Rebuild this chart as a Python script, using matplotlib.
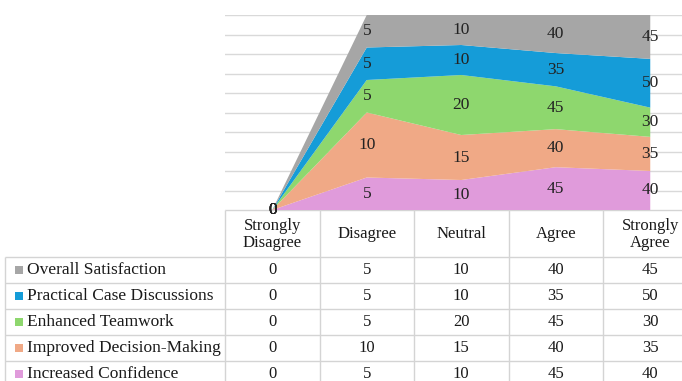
import numpy as np
import matplotlib.pyplot as plt

# survey responses per statement
categories = ["Strongly\nDisagree", "Disagree", "Neutral", "Agree", "Strongly\nAgree"]
series_names = ["Increased Confidence", "Improved Decision-Making", "Enhanced Teamwork",
                "Practical Case Discussions", "Overall Satisfaction"]
increased_confidence = [0, 5, 10, 45, 40]
improved_decision = [0, 10, 15, 40, 35]
enhanced_teamwork = [0, 5, 20, 45, 30]
practical_cases = [0, 5, 10, 35, 50]
overall_satisfaction = [0, 5, 10, 40, 45]
colors = ["#E09BDB", "#F0A986", "#8ED76E", "#159CD8", "#A6A6A6"]

plt.rcParams['font.family'] = ['Liberation Serif', 'DejaVu Serif']

W, H = 682, 381
fig = plt.figure(figsize=(W / 100, H / 100), dpi=100)

# 100% stacked area chart
col_w = 94.5
left, top, bottom = 225, 15, 210
ax = fig.add_axes([left / W, (H - bottom) / H, 5 * col_w / W, (bottom - top) / H])
vals = np.array([increased_confidence, improved_decision, enhanced_teamwork,
                 practical_cases, overall_satisfaction], dtype=float)
totals = vals.sum(axis=0)
pct = np.divide(vals * 100, totals, out=np.zeros_like(vals), where=totals > 0)
x = np.arange(len(categories))
ax.stackplot(x, pct, colors=colors, linewidth=0, zorder=2)
ax.set_xlim(-0.5, len(categories) - 0.5)
ax.set_ylim(0, 100)
ax.set_yticks(np.arange(0, 101, 10))
ax.grid(axis='y', color='#D9D9D9', linewidth=1, zorder=0)
ax.set_axisbelow(True)
for s in ax.spines.values():
    s.set_visible(False)
ax.tick_params(left=False, bottom=False, labelleft=False, labelbottom=False)

# data labels in the middle of each band
cum = np.cumsum(pct, axis=0)
for i in range(vals.shape[0]):
    for j in range(vals.shape[1]):
        y = cum[i, j] - pct[i, j] / 2
        ax.text(x[j], y, f"{int(vals[i, j])}", ha='center', va='center',
                fontsize=12.5, color='#222222', zorder=5)

# data table below the chart, in pixel coordinates
tb = fig.add_axes([0, 0, 1, 1], zorder=-1)
tb.set_xlim(0, W)
tb.set_ylim(H, 0)
tb.axis('off')
line_c = '#D4D4D4'
header_bottom = 257
row_h = 26
col_edges = [left + k * col_w for k in range(len(categories))]
tb.hlines(bottom, left, W, color=line_c, lw=1)
for r in range(6):
    tb.hlines(header_bottom + r * row_h, 5, W, color=line_c, lw=1)
for xe in col_edges:
    tb.vlines(xe, bottom, H, color=line_c, lw=1)
tb.vlines(5, header_bottom, H, color=line_c, lw=1)

for j, cat in enumerate(categories):
    cx = left + (j + 0.5) * col_w
    tb.text(cx, (bottom + header_bottom) / 2 + 1, cat, ha='center', va='center',
            fontsize=12, color='#1A1A1A', linespacing=1.05)

# rows listed top-down, as in the legend
for r, i in enumerate(range(vals.shape[0] - 1, -1, -1)):
    cy = header_bottom + (r + 0.5) * row_h
    tb.add_patch(plt.Rectangle((15, cy - 4), 8, 8, color=colors[i], lw=0))
    tb.text(27, cy, series_names[i], ha='left', va='center', fontsize=12.5, color='#1A1A1A')
    for j in range(vals.shape[1]):
        cx = left + (j + 0.5) * col_w
        tb.text(cx, cy, f"{int(vals[i, j])}", ha='center', va='center',
                fontsize=12, color='#1A1A1A')

fig.savefig("out.png", dpi=100)
